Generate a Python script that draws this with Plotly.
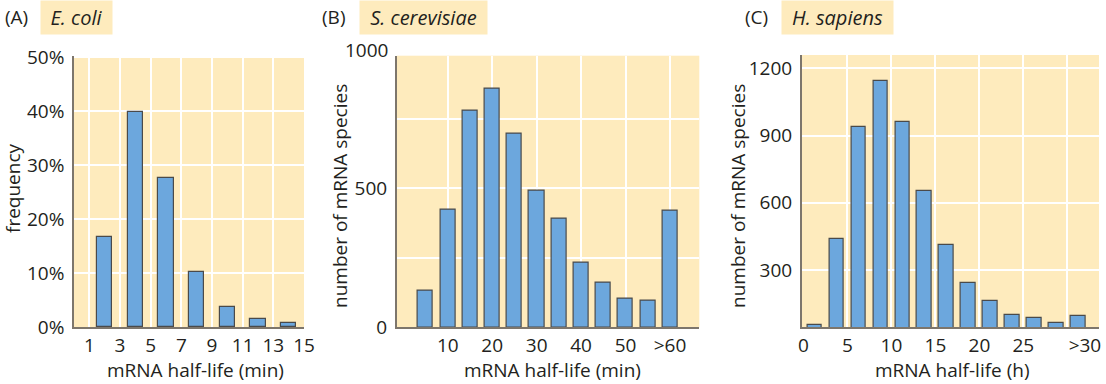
import plotly.graph_objects as go

# ---------------- data ----------------
# (A) E. coli: frequency (%) per 2-min half-life bin
ecoli_x = [2, 4, 6, 8, 10, 12, 14]
ecoli_freq = [16.7, 39.8, 27.6, 10.2, 3.8, 1.5, 0.85]
ecoli_tickvals = [1, 3, 5, 7, 9, 11, 13, 15]
ecoli_ticktext = ["1", "3", "5", "7", "9", "11", "13", "15"]
ecoli_yticks = [0, 10, 20, 30, 40, 50]
ecoli_yticktext = ["0%", "10%", "20%", "30%", "40%", "50%"]

# (B) S. cerevisiae: number of mRNA species per 5-min bin (last = >60)
yeast_x = [5, 10, 15, 20, 25, 30, 35, 40, 45, 50, 55, 60]
yeast_n = [130, 424, 778, 860, 695, 493, 391, 231, 162, 104, 96, 418]
yeast_tickvals = [10, 20, 30, 40, 50, 60]
yeast_ticktext = ["10", "20", "30", "40", "50", ">60"]
yeast_ygrid = [250, 500, 750]

# (C) H. sapiens: number of mRNA species per 2.5-h bin (last = >30)
human_x = [1.25, 3.75, 6.25, 8.75, 11.25, 13.75, 16.25, 18.75, 21.25, 23.75, 26.25, 28.75, 31.25]
human_n = [54, 437, 938, 1145, 959, 652, 410, 243, 160, 100, 84, 63, 93]
human_tickvals = [0, 5, 10, 15, 20, 25, 32]
human_ticktext = ["0", "5", "10", "15", "20", "25", ">30"]
human_grid = [5, 10, 15, 20, 25, 30]
human_yticks = [300, 600, 900, 1200]

# ---------------- style ----------------
BG = "#FEEBBD"
BAR = "#6CA7DD"
EDGE = "#4A4A4A"
AXIS = "#7D766C"
TXT = "#231F20"
FONT = "Open Sans"
FS = 19

fig = go.Figure()
bar_style = dict(marker=dict(color=BAR, line=dict(color=EDGE, width=1.2)), showlegend=False,
                 hoverinfo="skip")
fig.add_trace(go.Bar(x=ecoli_x, y=ecoli_freq, width=1.0, xaxis="x", yaxis="y", **bar_style))
fig.add_trace(go.Bar(x=yeast_x, y=yeast_n, width=3.4, xaxis="x2", yaxis="y2", **bar_style))
fig.add_trace(go.Bar(x=human_x, y=human_n, width=1.64, xaxis="x3", yaxis="y3", **bar_style))

H = 384.0
W = 1106.0
def py(px):
    return 1 - px / H
def pxx(px):
    return px / W

common_x = dict(showline=True, linecolor=AXIS, linewidth=1.5, gridcolor="white", gridwidth=2,
                zeroline=False, ticks="", automargin=False,
                tickfont=dict(family=FONT, size=FS, color=TXT), fixedrange=True)
common_y = dict(common_x)
common_y.update(ticks="outside", ticklen=4, tickcolor="rgba(0,0,0,0)")

fig.update_layout(
    width=1106, height=384, margin=dict(l=0, r=0, t=0, b=0, autoexpand=False),
    paper_bgcolor="white", plot_bgcolor=BG, bargap=0,
    font=dict(family=FONT, size=FS, color=TXT),
    xaxis=dict(common_x, domain=[pxx(74), pxx(304)], range=[0, 15], tickmode="array",
               tickvals=ecoli_tickvals, ticktext=ecoli_ticktext, anchor="y"),
    yaxis=dict(common_y, domain=[py(327.3), py(56)], range=[0, 50.2], tickmode="array",
               tickvals=ecoli_yticks, ticktext=ecoli_yticktext, anchor="x"),
    xaxis2=dict(common_x, domain=[pxx(396.7), pxx(699.3)], range=[-1.5, 66.6], tickmode="array",
                tickvals=yeast_tickvals, ticktext=yeast_ticktext, anchor="y2"),
    yaxis2=dict(common_y, domain=[py(327.3), py(55.7)], range=[0, 977], tickmode="array",
                tickvals=[0, 500], ticktext=["0", "500"], showgrid=False, anchor="x2",
                minor=dict(tickmode="array", tickvals=yeast_ygrid, showgrid=True,
                           gridcolor="white", gridwidth=2)),
    xaxis3=dict(common_x, domain=[pxx(801.7), pxx(1099)], range=[-0.2, 33.6], tickmode="array",
                tickvals=human_tickvals, ticktext=human_ticktext, showgrid=False, anchor="y3",
                minor=dict(tickmode="array", tickvals=human_grid, showgrid=True,
                           gridcolor="white", gridwidth=2)),
    yaxis3=dict(common_y, domain=[py(327.3), py(55)], range=[44, 1260], tickmode="array",
                tickvals=human_yticks, ticktext=[str(v) for v in human_yticks], anchor="x3"),
)

def label(text, x, y, angle=0, xanchor="center", size=FS):
    fig.add_annotation(text=text, xref="paper", yref="paper", x=pxx(x), y=py(y),
                       xanchor=xanchor, yanchor="middle", showarrow=False, textangle=angle,
                       font=dict(family=FONT, size=size, color=TXT))

# axis titles
label("mRNA half-life (min)", 195.5, 370)
label("mRNA half-life (min)", 552, 370)
label("mRNA half-life (h)", 952.5, 370)
label("frequency", 13, 188, angle=-90)
label("number of mRNA species", 340, 196, angle=-90)
label("number of mRNA species", 738, 196, angle=-90)

# "1000" tick label of panel B sits just above the plotting area
label("1000", 390, 49.5, xanchor="right")

# panel letters and organism boxes
panels = [("(A)", "E. coli", 3, 40, 71), ("(B)", "S. cerevisiae", 320, 358.7, 127),
          ("(C)", "H. sapiens", 743, 781, 111)]
for letter, name, lx, bx, bw in panels:
    label(letter, lx, 17, xanchor="left", size=FS)
    fig.add_annotation(text="<i>" + name + "</i>", xref="paper", yref="paper", x=pxx(bx), y=1,
                       xanchor="left", yanchor="top", showarrow=False, width=bw, height=33,
                       borderpad=0, bgcolor=BG, align="center", valign="middle",
                       font=dict(family=FONT, size=FS + 1, color=TXT))

fig.write_html("out.html", config={"displayModeBar": False},
               post_script="document.body.style.margin='0px';")
